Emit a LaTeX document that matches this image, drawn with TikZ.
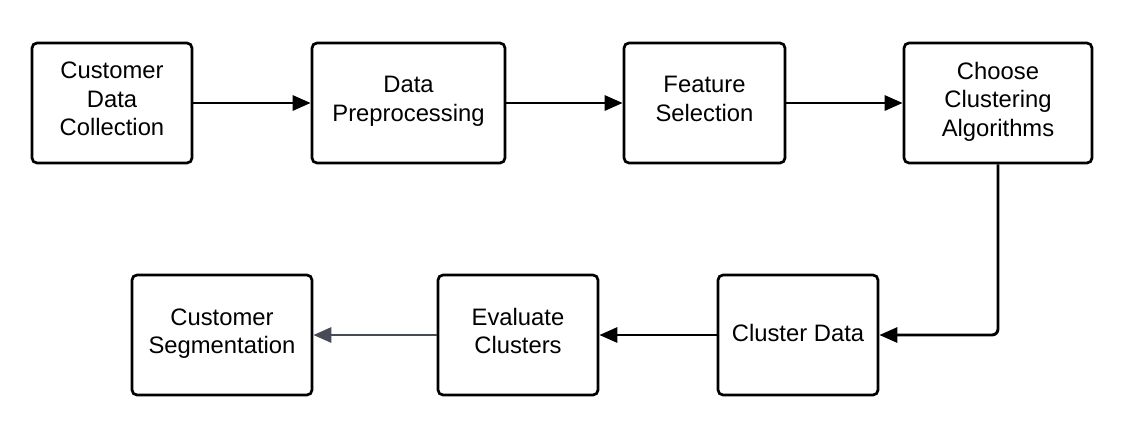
\documentclass[tikz,border=0pt]{standalone}
\usepackage{fontspec}
\setmainfont{Liberation Sans}
\usetikzlibrary{arrows.meta}
\definecolor{arrgray}{RGB}{70,75,86}
\begin{document}
\begin{tikzpicture}[x=1pt,y=-1pt,
  box/.style={draw, line width=2.7pt, rounded corners=5pt, align=center,
    font=\fontsize{23.8}{28.5}\selectfont, inner sep=0pt, minimum height=120pt},
  conn/.style={line width=2.9pt, -{Triangle[length=18pt,width=15pt]}}]
\useasboundingbox (0,0) rectangle (1123,440);
\node[box, minimum width=160pt] (b1) at (112,103) {Customer\\Data\\Collection\\[-20.5pt]};
\node[box, minimum width=193pt] (b2) at (408.5,103) {Data\\Preprocessing\\[-20.5pt]};
\node[box, minimum width=161pt] (b3) at (704.5,103) {Feature\\Selection\\[-20.5pt]};
\node[box, minimum width=188pt] (b4) at (998,103) {Choose\\Clustering\\Algorithms\\[-20.5pt]};
\node[box, minimum width=160pt] (b5) at (798,335) {Cluster Data\\[-24.5pt]};
\node[box, minimum width=160pt] (b6) at (518,335) {Evaluate\\Clusters\\[-20.5pt]};
\node[box, minimum width=180pt] (b7) at (222,335) {Customer\\Segmentation\\[-20.5pt]};
\draw[conn] (b1) -- (b2);
\draw[conn] (b2) -- (b3);
\draw[conn] (b3) -- (b4);
\draw[conn, rounded corners=6pt] (b4.south) |- (b5.east);
\draw[conn] (b5) -- (b6);
\draw[conn, color=arrgray] (b6) -- (b7);
\end{tikzpicture}
\end{document}
